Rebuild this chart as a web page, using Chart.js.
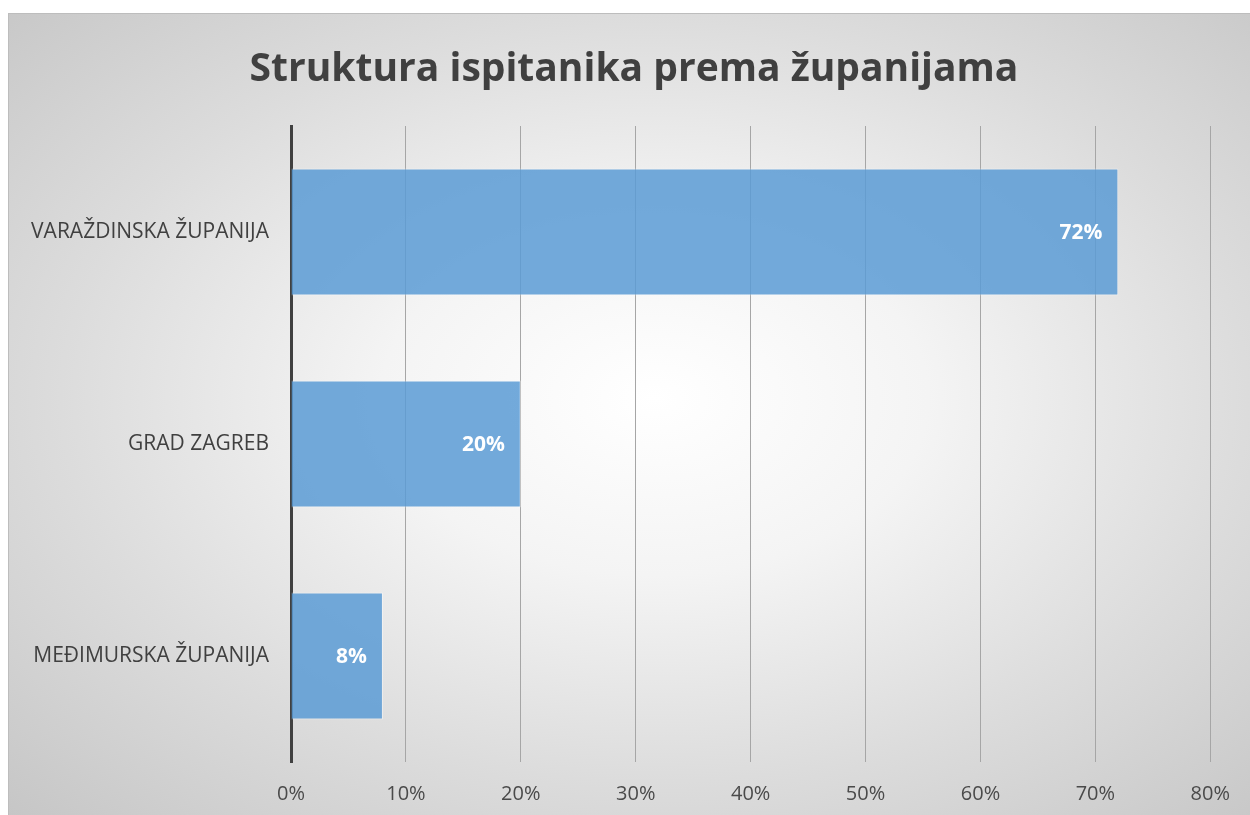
<!DOCTYPE html>
<html>
<head>
<meta charset="utf-8">
<script src="https://cdn.jsdelivr.net/npm/chart.js@4"></script>
<style>
  html, body { margin: 0; padding: 0; background: #fff; }
  #box {
    position: absolute; left: 8px; top: 13px; width: 1242px; height: 802px;
    box-sizing: border-box; border-top: 1px solid #bdbdbd; border-left: 1px solid #bdbdbd;
    background: radial-gradient(ellipse at 52% 48%, #ffffff 0%, #f4f4f4 30%, #dcdcdc 65%, #c6c6c6 100%);
  }
  #chart { display: block; }
</style>
</head>
<body>
<div id="box"><canvas id="chart" width="1241" height="801"></canvas></div>
<script>
const categories = ['VARAŽDINSKA ŽUPANIJA', 'GRAD ZAGREB', 'MEĐIMURSKA ŽUPANIJA'];
const shares = [72, 20, 8]; // percent
const titleText = 'Struktura ispitanika prema županijama';
const FONT = '"Open Sans", "Noto Sans", sans-serif';

// white value labels inside the bar ends
const barLabels = {
    id: 'barLabels',
    afterDatasetsDraw(chart) {
        const ctx = chart.ctx;
        const meta = chart.getDatasetMeta(0);
        ctx.save();
        ctx.font = 'bold 21px ' + FONT;
        ctx.fillStyle = '#ffffff';
        ctx.textAlign = 'right';
        ctx.textBaseline = 'middle';
        meta.data.forEach((bar, i) => {
            ctx.fillText(shares[i] + '%', bar.x - 16, bar.y + 1);
        });
        ctx.restore();
    }
};

// title sits centred on the whole box, not on the padded layout
const centredTitle = {
    id: 'centredTitle',
    afterDraw(chart) {
        const ctx = chart.ctx;
        ctx.save();
        ctx.font = 'bold 39px ' + FONT;
        ctx.fillStyle = '#404040';
        ctx.textAlign = 'center';
        ctx.textBaseline = 'middle';
        ctx.fillText(titleText, 625, 56);
        ctx.restore();
    }
};

new Chart(document.getElementById('chart'), {
    type: 'bar',
    data: {
        labels: categories,
        datasets: [{
            data: shares,
            backgroundColor: 'rgba(91,155,213,0.85)',
            borderColor: 'rgba(255,255,255,0.45)',
            borderWidth: 1,
            categoryPercentage: 1,
            barPercentage: 0.6
        }]
    },
    options: {
        indexAxis: 'y',
        responsive: false,
        animation: false,
        layout: { padding: { left: 0, right: 39, top: 112, bottom: 0 } },
        plugins: {
            legend: { display: false },
            tooltip: { enabled: false },
            title: { display: false }
        },
        scales: {
            x: {
                min: 0,
                max: 80,
                ticks: {
                    stepSize: 10,
                    padding: 20,
                    color: '#4a4a4a',
                    font: { family: FONT, size: 20 },
                    callback: v => v + '%'
                },
                grid: { color: '#a6a6a6', lineWidth: 1, drawTicks: false },
                border: { display: false },
                afterFit: s => { s.height = 53; }
            },
            y: {
                ticks: {
                    padding: 22,
                    color: '#404040',
                    font: { family: FONT, size: 21 }
                },
                grid: { display: false, drawTicks: false },
                border: { color: '#404040', width: 3 },
                afterFit: s => { s.width = 282; }
            }
        }
    },
    plugins: [barLabels, centredTitle]
});
</script>
</body>
</html>
